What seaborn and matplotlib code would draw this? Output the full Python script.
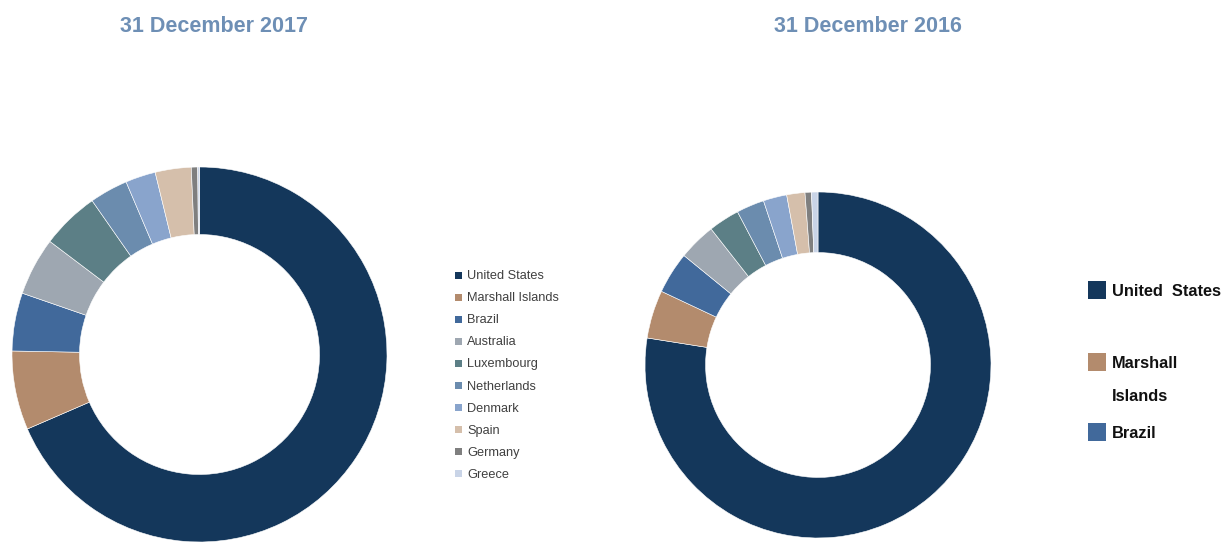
import matplotlib
matplotlib.use("Agg")
import matplotlib.pyplot as plt
from matplotlib.patches import Rectangle
import seaborn as sns

sns.set_theme(style="white")
plt.rcParams["font.family"] = ["Liberation Sans", "DejaVu Sans"]

countries = ["United States", "Marshall Islands", "Brazil", "Australia", "Luxembourg",
             "Netherlands", "Denmark", "Spain", "Germany", "Greece"]
share_2017 = [68.5, 6.8, 5.0, 5.0, 5.0, 3.3, 2.6, 3.1, 0.55, 0.15]
share_2016 = [77.5, 4.5, 3.9, 3.5, 2.9, 2.6, 2.2, 1.7, 0.6, 0.6]
colors = ["#14375b", "#b38b6d", "#41699b", "#9ea7b1", "#5c7f86",
          "#6b8cae", "#89a4cc", "#d5bfab", "#7f7f7f", "#c9d4e7"]
titles = ["31 December 2017", "31 December 2016"]
right_legend_labels = ["United  States", "Marshall\nIslands", "Brazil"]

palette = sns.color_palette(colors)

W, H = 1226, 548
fig = plt.figure(figsize=(W / 100, H / 100), dpi=100)


def px_axes(x0, y0, w, h):
    return fig.add_axes([x0 / W, 1 - (y0 + h) / H, w / W, h / H])


def donut(ax, values, hole):
    ax.pie(values, colors=palette, startangle=90, counterclock=False, radius=1,
           wedgeprops=dict(width=1 - hole, edgecolor="white", linewidth=0.4))
    ax.set_xlim(-1, 1)
    ax.set_ylim(-1, 1)
    ax.set_aspect("equal")
    ax.axis("off")


ax1 = px_axes(12, 167, 375, 375)
donut(ax1, share_2017, 0.64)
ax2 = px_axes(645, 192, 346, 346)
donut(ax2, share_2016, 0.65)

title_color = "#6e8fb5"
fig.text(214 / W, 1 - 26 / H, titles[0], ha="center", va="center",
         fontsize=15.5, fontweight="bold", color=title_color)
fig.text(868 / W, 1 - 26 / H, titles[1], ha="center", va="center",
         fontsize=15.5, fontweight="bold", color=title_color)

# Small legend beside the 2017 ring
for i, (name, col) in enumerate(zip(countries, palette)):
    yc = 275 + i * 22.1
    fig.add_artist(Rectangle((455 / W, 1 - (yc + 3.5) / H), 7 / W, 7 / H,
                             transform=fig.transFigure, color=col, lw=0))
    fig.text(467 / W, 1 - (yc + 1) / H, name, ha="left", va="center",
             fontsize=9.2, color="#404040", family="Liberation Sans")

# Large legend beside the 2016 ring
legend_rows = [290, 362, 432]
for label, col, yc in zip(right_legend_labels, palette[:3], legend_rows):
    fig.add_artist(Rectangle((1088 / W, 1 - (yc + 9) / H), 18 / W, 18 / H,
                             transform=fig.transFigure, color=col, lw=0))
    fig.text(1112 / W, 1 - (yc - 6) / H, label, ha="left", va="top",
             fontsize=11.8, color="#111111", family="Liberation Sans",
             fontweight="bold", linespacing=2.5)

fig.savefig("out.png", dpi=100)
